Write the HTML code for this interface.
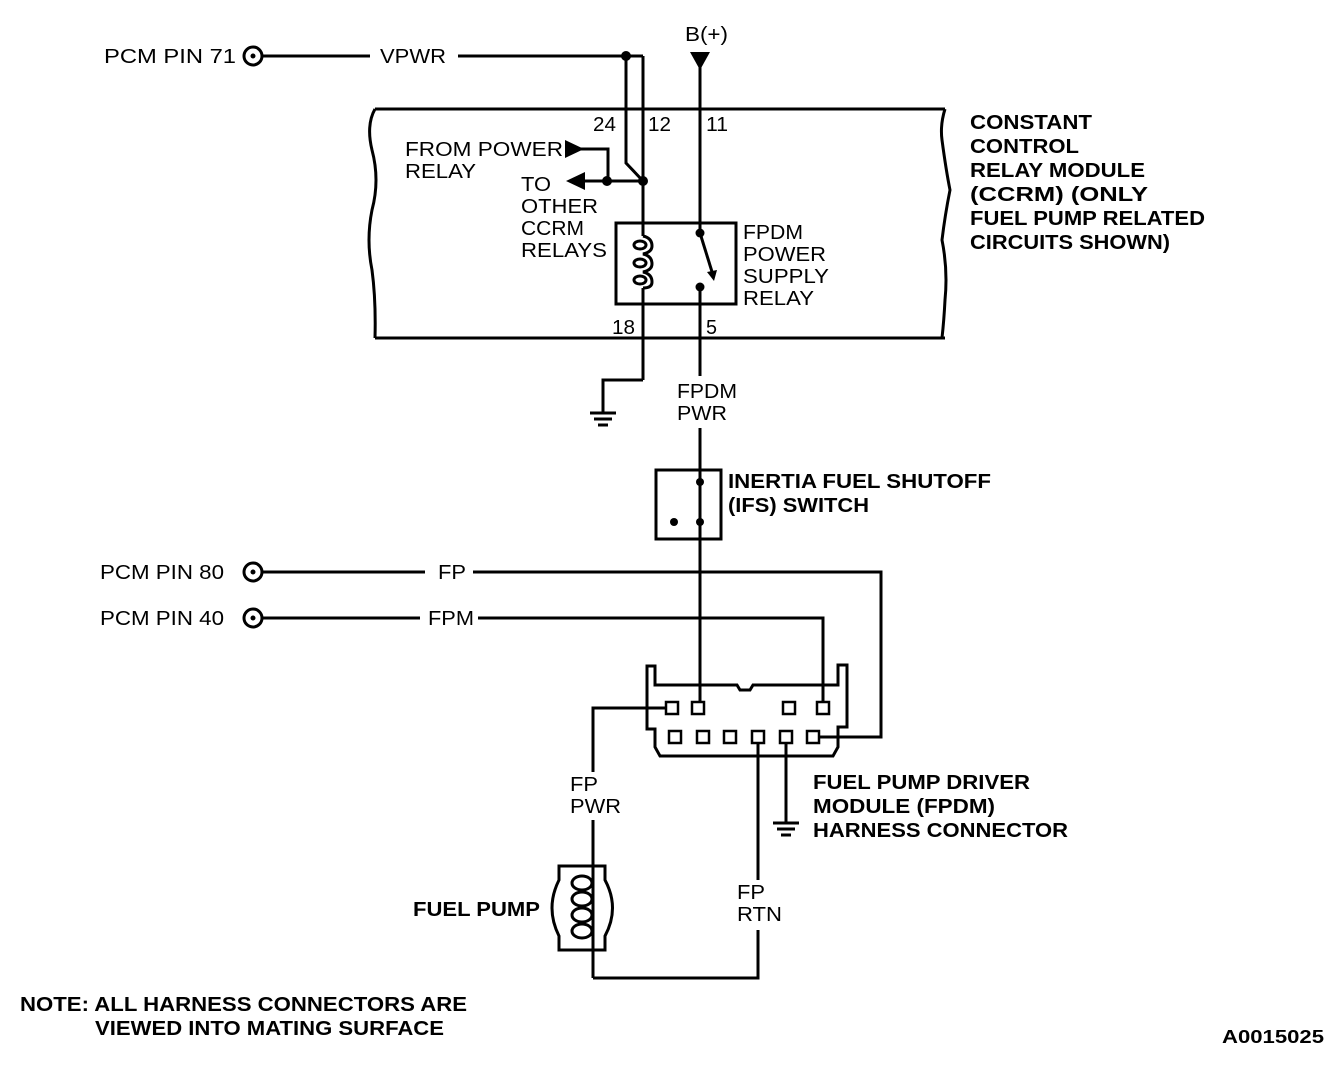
<!DOCTYPE html>
<html><head><style>
html,body{margin:0;padding:0;background:#fff;}
svg{display:block;}
text{font-family:"Liberation Sans",sans-serif;font-size:20px;fill:#000;}
.b{font-weight:bold;}
</style></head><body>
<svg width="1344" height="1084" viewBox="0 0 1344 1084" xmlns="http://www.w3.org/2000/svg">
<g fill="none" stroke="#000" stroke-width="3">
<circle cx="253" cy="56" r="9"/>
<line x1="262" y1="56" x2="370" y2="56"/>
<line x1="458" y1="56" x2="643" y2="56"/>
<polyline points="643,56 643,236"/>
<polyline points="626,56 626,163 643,181"/>
<polyline points="580,149 608,149 608,181"/>
<line x1="585" y1="181" x2="643" y2="181"/>
<line x1="375" y1="109" x2="945" y2="109"/>
<line x1="375" y1="338" x2="945" y2="338"/>
<path d="M375,109 Q366,125 372,150 Q380,180 372,210 Q366,240 372,270 Q376,300 375,338"/>
<path d="M945,109 Q940,125 942,140 Q946,170 950,190 Q945,215 942,240 Q948,270 945,300 Q944,320 942,338"/>
<line x1="700" y1="60" x2="700" y2="233"/>
<rect x="616" y="223" width="120" height="81"/>
<line x1="700" y1="233" x2="713" y2="275"/>
<line x1="643" y1="288" x2="643" y2="380"/>
<polyline points="643,380 603,380 603,412"/>
<line x1="700" y1="287" x2="700" y2="376"/>
<line x1="700" y1="428" x2="700" y2="708"/>
<rect x="656" y="470" width="65" height="69"/>
<circle cx="253" cy="572" r="9"/>
<line x1="262" y1="572" x2="425" y2="572"/>
<polyline points="473,572 881,572 881,737 813,737"/>
<circle cx="253" cy="618" r="9"/>
<line x1="262" y1="618" x2="420" y2="618"/>
<polyline points="478,618 823,618 823,708"/>
<path d="M647,666 L647,729 L655,729 L655,747 L660,756 L833,756 L838,747 L838,727 L847,727 L847,665 L838,665 L838,685 L753,685 L750,690 L740,690 L737,685 L655,685 L655,666 Z"/>
<polyline points="666,708 593,708 593,772"/>
<line x1="593" y1="820" x2="593" y2="978"/>
<polyline points="593,978 758,978 758,930"/>
<line x1="758" y1="880" x2="758" y2="737"/>
<line x1="786" y1="737" x2="786" y2="822"/>
<path d="M559,866 L605,866 L605,880 Q620,908 605,936 L605,950 L559,950 L559,936 Q545,908 559,880 Z"/>
<path d="M643,236 Q652,238 652,246 Q652,252 643,254 Q652,256 652,264 Q652,270 643,272 Q652,274 652,282 Q652,288 643,288"/>
<ellipse cx="640" cy="245" rx="6" ry="4"/>
<ellipse cx="640" cy="263" rx="6" ry="4"/>
<ellipse cx="640" cy="280" rx="6" ry="4"/>
<ellipse cx="582" cy="883" rx="10" ry="7"/>
<ellipse cx="582" cy="899" rx="10" ry="7"/>
<ellipse cx="582" cy="915" rx="10" ry="7"/>
<ellipse cx="582" cy="931" rx="10" ry="7"/>
</g>
<g fill="#000">
<circle cx="626" cy="56" r="5"/>
<circle cx="643" cy="181" r="5"/>
<circle cx="607" cy="181" r="5"/>
<circle cx="700" cy="233" r="4.5"/>
<circle cx="700" cy="287" r="4.5"/>
<circle cx="700" cy="482" r="4"/>
<circle cx="700" cy="522" r="4"/>
<circle cx="674" cy="522" r="4"/>
<polygon points="690,52 710,52 700,70"/>
<polygon points="565,140 584,149 565,158"/>
<polygon points="585,172 585,190 566,181"/>
<polygon points="707,272 717,270 714,281"/>
<circle cx="253" cy="56" r="2.5"/>
<circle cx="253" cy="572" r="2.5"/>
<circle cx="253" cy="618" r="2.5"/>
</g>
<g fill="#fff" stroke="#000" stroke-width="2.5">
<rect x="666" y="702" width="12" height="12"/>
<rect x="692" y="702" width="12" height="12"/>
<rect x="783" y="702" width="12" height="12"/>
<rect x="817" y="702" width="12" height="12"/>
<rect x="669" y="731" width="12" height="12"/>
<rect x="697" y="731" width="12" height="12"/>
<rect x="724" y="731" width="12" height="12"/>
<rect x="752" y="731" width="12" height="12"/>
<rect x="780" y="731" width="12" height="12"/>
<rect x="807" y="731" width="12" height="12"/>
</g>
<g stroke="#000" stroke-width="3">
<line x1="590" y1="413" x2="616" y2="413"/><line x1="594" y1="419" x2="612" y2="419"/><line x1="598" y1="425" x2="608" y2="425"/>
<line x1="773" y1="823" x2="799" y2="823"/><line x1="777" y1="829" x2="795" y2="829"/><line x1="781" y1="835" x2="791" y2="835"/>
</g>
<g>
<text x="104" y="63" textLength="132" lengthAdjust="spacingAndGlyphs">PCM PIN 71</text>
<text x="380" y="63" textLength="66" lengthAdjust="spacingAndGlyphs">VPWR</text>
<text x="685" y="41" textLength="43" lengthAdjust="spacingAndGlyphs">B(+)</text>
<text x="593" y="131" textLength="23" lengthAdjust="spacingAndGlyphs">24</text>
<text x="648" y="131" textLength="23" lengthAdjust="spacingAndGlyphs">12</text>
<text x="706" y="131" textLength="22" lengthAdjust="spacingAndGlyphs">11</text>
<text x="405" y="156" textLength="158" lengthAdjust="spacingAndGlyphs">FROM POWER</text>
<text x="405" y="178" textLength="71" lengthAdjust="spacingAndGlyphs">RELAY</text>
<text x="521" y="191" textLength="30" lengthAdjust="spacingAndGlyphs">TO</text>
<text x="521" y="213" textLength="77" lengthAdjust="spacingAndGlyphs">OTHER</text>
<text x="521" y="235" textLength="63" lengthAdjust="spacingAndGlyphs">CCRM</text>
<text x="521" y="257" textLength="86" lengthAdjust="spacingAndGlyphs">RELAYS</text>
<text x="743" y="239" textLength="60" lengthAdjust="spacingAndGlyphs">FPDM</text>
<text x="743" y="261" textLength="83" lengthAdjust="spacingAndGlyphs">POWER</text>
<text x="743" y="283" textLength="86" lengthAdjust="spacingAndGlyphs">SUPPLY</text>
<text x="743" y="305" textLength="71" lengthAdjust="spacingAndGlyphs">RELAY</text>
<text x="612" y="334" textLength="23" lengthAdjust="spacingAndGlyphs">18</text>
<text x="706" y="334" textLength="11" lengthAdjust="spacingAndGlyphs">5</text>
<text x="677" y="398" textLength="60" lengthAdjust="spacingAndGlyphs">FPDM</text>
<text x="677" y="420" textLength="50" lengthAdjust="spacingAndGlyphs">PWR</text>
<text class="b" x="970" y="129" textLength="122" lengthAdjust="spacingAndGlyphs">CONSTANT</text>
<text class="b" x="970" y="153" textLength="109" lengthAdjust="spacingAndGlyphs">CONTROL</text>
<text class="b" x="970" y="177" textLength="175" lengthAdjust="spacingAndGlyphs">RELAY MODULE</text>
<text class="b" x="970" y="201" textLength="178" lengthAdjust="spacingAndGlyphs">(CCRM) (ONLY</text>
<text class="b" x="970" y="225" textLength="235" lengthAdjust="spacingAndGlyphs">FUEL PUMP RELATED</text>
<text class="b" x="970" y="249" textLength="200" lengthAdjust="spacingAndGlyphs">CIRCUITS SHOWN)</text>
<text class="b" x="728" y="488" textLength="263" lengthAdjust="spacingAndGlyphs">INERTIA FUEL SHUTOFF</text>
<text class="b" x="728" y="512" textLength="141" lengthAdjust="spacingAndGlyphs">(IFS) SWITCH</text>
<text class="b" x="813" y="789" textLength="217" lengthAdjust="spacingAndGlyphs">FUEL PUMP DRIVER</text>
<text class="b" x="813" y="813" textLength="182" lengthAdjust="spacingAndGlyphs">MODULE (FPDM)</text>
<text class="b" x="813" y="837" textLength="255" lengthAdjust="spacingAndGlyphs">HARNESS CONNECTOR</text>
<text class="b" x="413" y="916" textLength="127" lengthAdjust="spacingAndGlyphs">FUEL PUMP</text>
<text class="b" x="20" y="1011" textLength="447" lengthAdjust="spacingAndGlyphs">NOTE: ALL HARNESS CONNECTORS ARE</text>
<text class="b" x="95" y="1035" textLength="349" lengthAdjust="spacingAndGlyphs">VIEWED INTO MATING SURFACE</text>
<text class="b" x="1222" y="1043" textLength="102" lengthAdjust="spacingAndGlyphs" style="font-size:18px">A0015025</text>
<text x="100" y="579" textLength="124" lengthAdjust="spacingAndGlyphs">PCM PIN 80</text>
<text x="438" y="579" textLength="28" lengthAdjust="spacingAndGlyphs">FP</text>
<text x="100" y="625" textLength="124" lengthAdjust="spacingAndGlyphs">PCM PIN 40</text>
<text x="428" y="625" textLength="46" lengthAdjust="spacingAndGlyphs">FPM</text>
<text x="570" y="791" textLength="28" lengthAdjust="spacingAndGlyphs">FP</text>
<text x="570" y="813" textLength="51" lengthAdjust="spacingAndGlyphs">PWR</text>
<text x="737" y="899" textLength="28" lengthAdjust="spacingAndGlyphs">FP</text>
<text x="737" y="921" textLength="45" lengthAdjust="spacingAndGlyphs">RTN</text>
</g>
</svg>
</body></html>
